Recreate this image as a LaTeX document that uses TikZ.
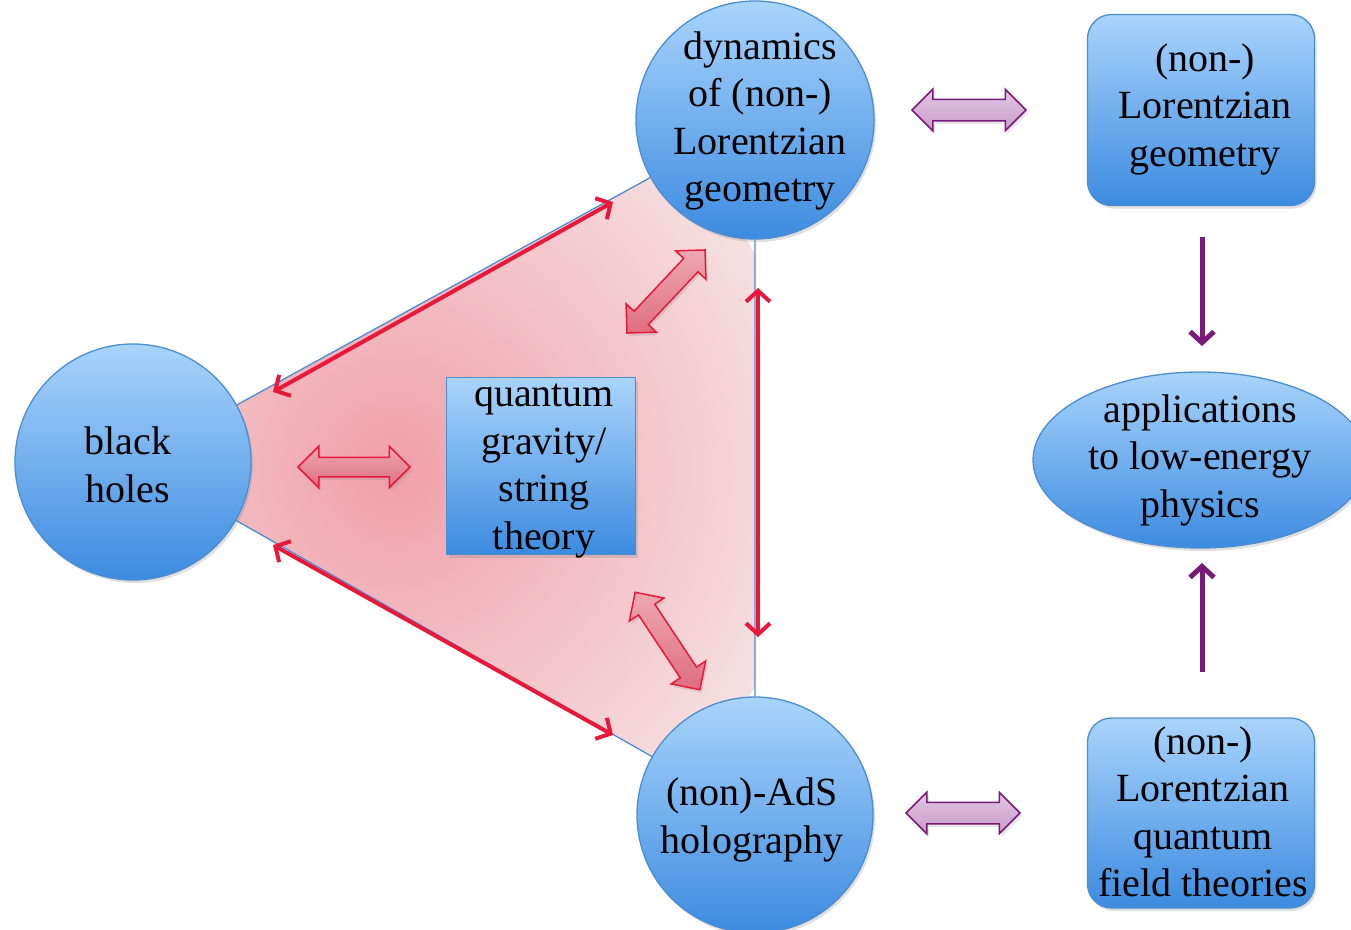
\documentclass[tikz,border=0pt]{standalone}
\usepackage{fontspec}
\setmainfont{Liberation Serif}
\usetikzlibrary{shapes.geometric,shapes.arrows,shadows,arrows.meta}
\definecolor{bluetop}{HTML}{A9D4FB}
\definecolor{bluebot}{HTML}{3C8BE0}
\definecolor{blueedge}{HTML}{4C8DD2}
\definecolor{pinkin}{HTML}{F0A0AA}
\definecolor{pinkout}{HTML}{F6E0E0}
\definecolor{redline}{HTML}{E8183A}
\definecolor{redfill}{HTML}{DF6E7E}
\definecolor{purpline}{HTML}{7A1A78}
\definecolor{purpfill}{HTML}{C99ACB}
\tikzset{
  bluefill/.style={top color=bluetop,bottom color=bluebot,draw=blueedge,line width=1.3pt,
    drop shadow={shadow xshift=2pt,shadow yshift=-3pt,opacity=0.25}},
  bigcirc/.style={bluefill,circle,inner sep=0pt},
  lbl/.style={font=\fontsize{40}{47.5}\selectfont,align=center,inner sep=0pt,text=black},
  thinred/.style={draw=redline,line width=4pt,{Straight Barb[length=11pt,width=24pt,line width=4pt]}-{Straight Barb[length=11pt,width=24pt,line width=4pt]}},
  thinpurp/.style={draw=purpline,line width=5pt,-{Straight Barb[length=11pt,width=24pt,line width=5pt]}},
  redblock/.style={double arrow,draw=redline,line width=1.5pt,top color=redfill!60!white,bottom color=redfill,
    inner xsep=0pt,inner ysep=9pt,minimum width=0pt,double arrow head extend=11pt,double arrow tip angle=90,
    drop shadow={shadow xshift=2pt,shadow yshift=-3pt,opacity=0.2}},
  purpblock/.style={double arrow,draw=purpline,line width=1.5pt,top color=purpfill!55!white,bottom color=purpfill,
    inner xsep=0pt,inner ysep=10pt,minimum width=0pt,double arrow head extend=10pt,double arrow tip angle=90,
    drop shadow={shadow xshift=2pt,shadow yshift=-3pt,opacity=0.2}},
}
\begin{document}
\begin{tikzpicture}[x=1pt,y=-1pt]
\useasboundingbox (0,0) rectangle (1351,929);
% circle / box nodes
\coordinate (cdyn) at (755,120);
\coordinate (cbh) at (133,462);
\coordinate (cads) at (755,815);
% pink triangle
\begin{scope}
  \clip (cbh) -- (cdyn) -- (cads) -- cycle;
  \shade[inner color=pinkin,outer color=pinkout] (395,470) circle (420);
\end{scope}
\draw[blueedge,line width=1.3pt] (cbh) -- (cdyn) -- (cads) -- cycle;
% main nodes
\node[bigcirc,minimum size=238pt] (dyn) at (cdyn) {};
\node[bigcirc,minimum size=236pt] (bh) at (cbh) {};
\node[bigcirc,minimum size=236pt] (ads) at (cads) {};
\node[bluefill,rectangle,inner sep=0pt,minimum width=189pt,minimum height=177pt] (qg) at (541,466) {};
\node[bluefill,rectangle,rounded corners=24pt,inner sep=0pt,minimum width=227pt,minimum height=191pt] (tr) at (1201,110) {};
\node[bluefill,ellipse,inner sep=0pt,minimum width=334pt,minimum height=176pt] (app) at (1200,460) {};
\node[bluefill,rectangle,rounded corners=24pt,inner sep=0pt,minimum width=227pt,minimum height=190pt] (br) at (1201,813) {};
% labels
\node[lbl] (dynt) at (760,121) {dynamics\\of (non-)\\Lorentzian\\geometry};
\node[lbl] (bht) at (128,465) {black\\holes};
\node[lbl] (adst) at (752,820) {(non)-AdS\\holography};
\node[lbl] (qgt) at (544,471) {quantum\\gravity/\\string\\theory};
\node[lbl] (trt) at (1205,109) {(non-)\\Lorentzian\\geometry};
\node[lbl] (appt) at (1200,460) {applications\\to low-energy\\physics};
\node[lbl] (brt) at (1203,812) {(non-)\\Lorentzian\\quantum\\field theories};
% thin red arrows
\coordinate (u1) at (273,392); \coordinate (u2) at (613,202);
\coordinate (l1) at (273,545); \coordinate (l2) at (613,735);
\coordinate (v1) at (758,288); \coordinate (v2) at (758,637);
\draw[thinred] (u1) -- (u2);
\draw[thinred] (l1) -- (l2);
\draw[thinred] (v1) -- (v2);
% block arrows
\node[redblock,minimum height=112pt] (ba1) at (354,467) {};
\node[redblock,minimum height=114pt,rotate=46.8] (ba2) at (666,291.5) {};
\node[redblock,minimum height=117pt,rotate=-56.4] (ba3) at (667.5,641) {};
\node[purpblock,minimum height=114pt] (pa1) at (969,110) {};
\node[purpblock,minimum height=114pt] (pa2) at (963,813) {};
% purple thin arrows
\coordinate (p1) at (1202,237); \coordinate (p2) at (1202,346);
\coordinate (p3) at (1202,672); \coordinate (p4) at (1202,563);
\draw[thinpurp] (p1) -- (p2);
\draw[thinpurp] (p3) -- (p4);
\end{tikzpicture}
\end{document}
